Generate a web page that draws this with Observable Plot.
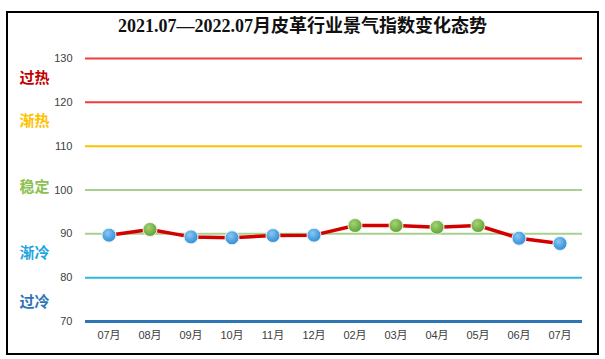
<!DOCTYPE html>
<html>
<head>
<meta charset="utf-8">
<script src="https://cdn.jsdelivr.net/npm/d3@7"></script>
<script src="https://cdn.jsdelivr.net/npm/@observablehq/plot@0.6"></script>
<style>
  html, body { margin: 0; padding: 0; background: #fff; }
  #wrap { position: relative; width: 605px; height: 359px; overflow: hidden; }
  #frame { position: absolute; left: 6px; top: 11px; width: 593px; height: 344px; border: 2px solid #000; box-sizing: border-box; pointer-events: none; }
  #title { position: absolute; left: 0; top: 15px; width: 605px; text-align: center; font-family: "Liberation Serif", "Noto Sans CJK SC", serif; font-size: 18px; font-weight: 600; color: #111; line-height: 22px; }
  #chart { position: absolute; left: 0; top: 0; }
</style>
</head>
<body>
<div id="wrap">
  <div id="chart"></div>
  <div id="title">2021.07—2022.07月皮革行业景气指数变化态势</div>
  <div id="frame"></div>
</div>
<script>
// Months (categories)
const months = ["07月","08月","09月","10月","11月","12月","02月","03月","04月","05月","06月","07月"];
// Index values
const values = [89.7, 91.0, 89.3, 89.1, 89.6, 89.7, 91.9, 91.9, 91.5, 91.9, 89.0, 87.8];
// Y ticks / gridlines
const gridVals = [130, 120, 110, 100, 90, 80, 70];
const gridColors = ["#f03c3c", "#f03c3c", "#ffc000", "#a9d18e", "#a9d18e", "#33b5e5", "#2e75b6"];
const gridWidths = [2, 2, 2, 2, 2, 2, 3];
// Zone labels
const zoneLabels = ["过热", "渐热", "稳定", "渐冷", "过冷"];
const zoneVals = [125.6, 115.6, 100.7, 85.6, 74.4];
const zoneColors = ["#c00000", "#ffc000", "#8cc152", "#1fa4e0", "#2e75b6"];

const data = values.map((v, i) => ({i, v, label: months[i]}));
const grid = gridVals.map((g, k) => ({g, c: gridColors[k], w: gridWidths[k]}));
const zones = zoneLabels.map((t, k) => ({t, y: zoneVals[k], c: zoneColors[k]}));

const plot = Plot.plot({
  width: 605,
  height: 359,
  marginLeft: 85,
  marginRight: 23,
  marginTop: 58,
  marginBottom: 38,
  style: {fontFamily: "Liberation Sans, Noto Sans CJK SC, sans-serif", fontSize: "11px", color: "#404040", background: "transparent"},
  x: {type: "band", domain: d3.range(months.length), padding: 0, tickFormat: i => months[i], label: null},
  y: {domain: [70, 130], label: null},
  marks: [
    Plot.ruleY(grid, {y: "g", stroke: "c", strokeWidth: "w"}),
    Plot.axisY(gridVals, {tickSize: 0, tickPadding: 13, fontSize: 11, fill: "#404040"}),
    Plot.axisX(d3.range(months.length), {tickSize: 0, tickPadding: 10, tickFormat: i => months[i], fontSize: 11, fill: "#404040"}),
    Plot.text(zones, {y: "y", text: "t", fill: "c", frameAnchor: "left", dx: -51, textAnchor: "middle",
      fontSize: 15, fontWeight: "bold", fontFamily: "Noto Sans CJK SC"}),
    Plot.line(data, {x: "i", y: "v", stroke: "#d40000", strokeWidth: 3.5}),
    Plot.dot(data.filter(d => d.v < 90), {x: "i", y: "v", r: 7, fill: "url(#gBlue)", stroke: "#e8f2fa", strokeWidth: 1}),
    Plot.dot(data.filter(d => d.v >= 90), {x: "i", y: "v", r: 7, fill: "url(#gGreen)", stroke: "#eef5e6", strokeWidth: 1})
  ]
});

const svg = d3.select(plot);
const defs = svg.insert("defs", ":first-child");
function grad(id, c0, c1, c2) {
  const g = defs.append("radialGradient").attr("id", id).attr("cx", "40%").attr("cy", "35%").attr("r", "65%");
  g.append("stop").attr("offset", "0%").attr("stop-color", c0);
  g.append("stop").attr("offset", "60%").attr("stop-color", c1);
  g.append("stop").attr("offset", "100%").attr("stop-color", c2);
}
grad("gBlue", "#8cc8f0", "#4fa3e0", "#3a8fd0");
grad("gGreen", "#a6d27a", "#79b64a", "#649f3a");

document.getElementById("chart").appendChild(plot);
</script>
</body>
</html>
